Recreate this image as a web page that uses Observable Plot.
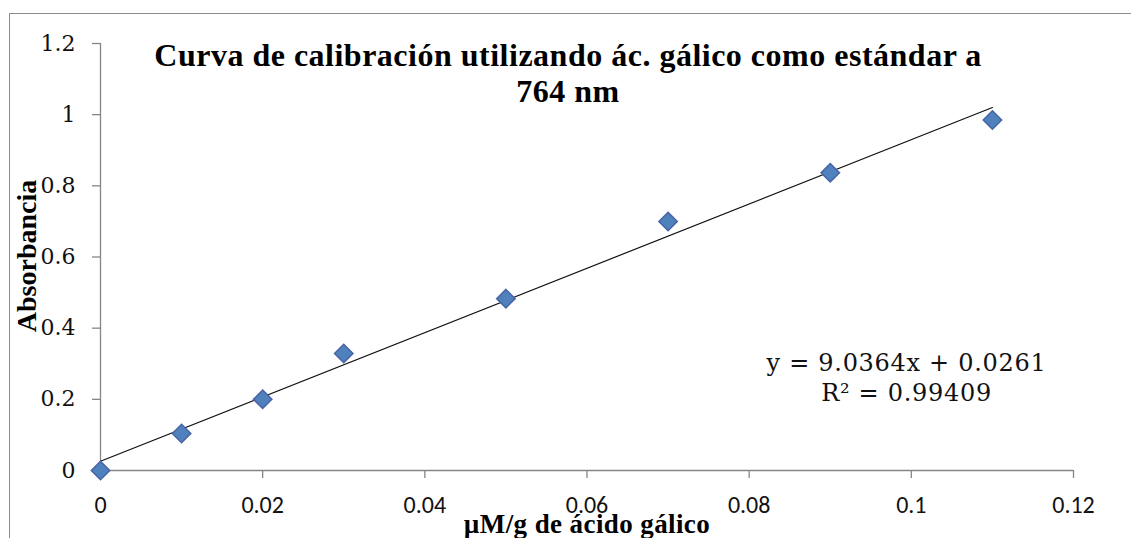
<!DOCTYPE html>
<html>
<head>
<meta charset="utf-8">
<script src="https://cdn.jsdelivr.net/npm/d3@7"></script>
<script src="https://cdn.jsdelivr.net/npm/@observablehq/plot@0.6"></script>
<style>
  html, body { margin: 0; padding: 0; background: #fff; }
  #wrap { position: relative; width: 1131px; height: 538px; overflow: hidden; }
  #border { position: absolute; left: 9px; top: 13px; width: 1400px; height: 800px;
            border-top: 1.5px solid #8c8c8c; border-left: 1.5px solid #8c8c8c; pointer-events: none; }
</style>
</head>
<body>
<div id="wrap"><div id="border"></div></div>
<script>
// Data
const concentration = [0, 0.01, 0.02, 0.03, 0.05, 0.07, 0.09, 0.11];
const absorbance    = [0, 0.104, 0.200, 0.329, 0.483, 0.700, 0.837, 0.985];
const slope = 9.0364;
const intercept = 0.0261;
const r2 = 0.99409;
const xTicks = [0, 0.02, 0.04, 0.06, 0.08, 0.1, 0.12];
const xTickLabels = ["0", "0.02", "0.04", "0.06", "0.08", "0.1", "0.12"];
const yTicks = [0, 0.2, 0.4, 0.6, 0.8, 1, 1.2];
const yTickLabels = ["0", "0.2", "0.4", "0.6", "0.8", "1", "1.2"];
const titleText = "Curva de calibración utilizando ác. gálico como estándar a\n764 nm";
const xLabel = "µM/g de ácido gálico";
const yLabel = "Absorbancia";

const points = concentration.map((x, i) => ({x, y: absorbance[i]}));
const trendX = [concentration[0], concentration[concentration.length - 1]];
const trend = trendX.map(x => ({x, y: slope * x + intercept}));
const eqText = `y = ${slope}x + ${intercept}\nR² = ${r2}`;

const axisGray = "#868686";
const serif = "'DejaVu Serif', serif";
const boldSerif = "'Liberation Serif', serif";
const sans = "Carlito, 'Liberation Sans', sans-serif";

const chart = Plot.plot({
  width: 1131,
  height: 538,
  marginLeft: 100,
  marginRight: 58,
  marginTop: 43,
  marginBottom: 68,
  style: {background: "transparent", overflow: "visible"},
  x: {domain: [0, 0.12], axis: null},
  y: {domain: [0, 1.2], axis: null},
  marks: [
    // axis lines
    Plot.ruleX([0], {stroke: axisGray, strokeWidth: 1.3}),
    Plot.ruleY([0], {stroke: axisGray, strokeWidth: 1.3}),
    // tick marks (outside)
    Plot.ruleX(xTicks, {x: d => d, y1: 0, y2: 0, insetBottom: -8, stroke: axisGray, strokeWidth: 1.3}),
    Plot.ruleY(yTicks, {y: d => d, x1: 0, x2: 0, insetLeft: -8, stroke: axisGray, strokeWidth: 1.3}),
    // tick labels
    Plot.text(xTicks, {
      x: d => d, text: (d, i) => xTickLabels[i],
      frameAnchor: "bottom", lineAnchor: "top", textAnchor: "middle", dy: 25,
      fontFamily: sans, fontSize: 24, fill: "#111"
    }),
    Plot.text(yTicks, {
      y: d => d, text: (d, i) => yTickLabels[i],
      frameAnchor: "left", textAnchor: "end", dx: -25,
      fontFamily: serif, fontSize: 22, fill: "#111"
    }),
    // data
    Plot.line(trend, {x: "x", y: "y", stroke: "#111", strokeWidth: 1.2}),
    Plot.dot(points, {x: "x", y: "y", symbol: "diamond2", r: 8.3,
                      fill: "#4F81BD", stroke: "#4A64A6", strokeWidth: 1.5}),
    // title & labels
    Plot.text([titleText], {
      frameAnchor: "top", lineAnchor: "top", textAnchor: "middle",
      dx: -19, dy: -3, lineHeight: 1.12,
      fontFamily: boldSerif, fontWeight: "bold", fontSize: 32, fill: "#000"
    }),
    Plot.text([yLabel], {
      frameAnchor: "left", rotate: -90, textAnchor: "middle",
      dx: -73, dy: -1,
      fontFamily: boldSerif, fontWeight: "bold", fontSize: 28, fill: "#000"
    }),
    Plot.text([xLabel], {
      frameAnchor: "bottom", lineAnchor: "top", textAnchor: "middle",
      dx: 0, dy: 43,
      fontFamily: boldSerif, fontWeight: "bold", fontSize: 27, fill: "#000"
    }),
    Plot.text([eqText], {
      frameAnchor: "right", lineAnchor: "top", textAnchor: "middle",
      dx: -167, dy: 93, lineHeight: 1.25,
      fontFamily: serif, fontSize: 24, fill: "#111"
    })
  ]
});

// typographic fine-tuning (letter spacing)
const svg = d3.select(chart.tagName.toLowerCase() === "svg" ? chart : chart.querySelector("svg"));
svg.selectAll("text").each(function() {
  const t = this.textContent;
  if (t.startsWith("y =")) d3.select(this).style("letter-spacing", "0.7px");
  else if (t.startsWith("Curva")) d3.select(this).style("letter-spacing", "0.5px");
  else if (t === xLabel) d3.select(this).style("letter-spacing", "0.4px");
});
document.getElementById("wrap").insertBefore(chart, document.getElementById("border"));
</script>
</body>
</html>
